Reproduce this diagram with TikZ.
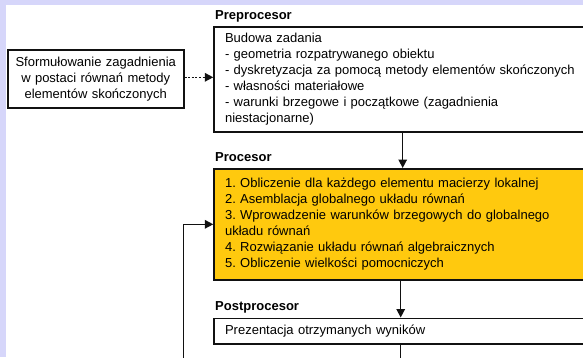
\documentclass[tikz,border=0pt]{standalone}
\usepackage{fontspec}
\setmainfont{Liberation Sans}
\usetikzlibrary{arrows.meta}
\frenchspacing
\definecolor{frame}{HTML}{D6D6FA}
\definecolor{procyellow}{HTML}{FFC90E}
\definecolor{lineblack}{HTML}{111111}
\tikzset{
  box/.style={draw=lineblack, line width=1.5pt, fill=white, inner xsep=11pt, inner ysep=0pt, anchor=north west,
    font=\fontsize{13}{16}\selectfont\frenchspacing, align=left},
  head/.style={font=\fontsize{13}{16}\selectfont\bfseries, anchor=base west, inner sep=0pt},
  arr/.style={line width=1.5pt, draw=lineblack, -{Triangle[length=8.5pt,width=8.5pt]}},
  plain/.style={line width=1.5pt, draw=lineblack},
}
\begin{document}
\begin{tikzpicture}[x=1pt,y=-1pt]
\useasboundingbox (0,0) rectangle (583,357);
\fill[frame] (0,0) rectangle (583,357);
\fill[white] (6,5) rectangle (583,357);
\clip (0,0) rectangle (583,357);

% left box
\node[box, align=center, inner xsep=0pt, text width=176pt, minimum width=176pt, minimum height=58pt] (form) at (7,49)
  {Sformułowanie zagadnienia\\w postaci równań metody\\elementów skończonych};

% preprocessor
\node[head] (lpre) at (215,19) {Preprocesor};
\node[box, text width=420pt, minimum height=105pt] (pre) at (213.3,26)
  {Budowa zadania\\
   - geometria rozpatrywanego obiektu\\
   - dyskretyzacja za pomocą metody elementów skończonych\\
   - własności materiałowe\\
   - warunki brzegowe i początkowe (zagadnienia\\
   niestacjonarne)};

% processor
\node[head] (lproc) at (215,161) {Procesor};
\node[box, fill=procyellow, text width=420pt, minimum height=111pt] (proc) at (213.3,168)
  {1. Obliczenie dla każdego elementu macierzy lokalnej\\
   2. Asemblacja globalnego układu równań\\
   3. Wprowadzenie warunków brzegowych do globalnego\\
   układu równań\\
   4. Rozwiązanie układu równań algebraicznych\\
   5. Obliczenie wielkości pomocniczych};

% postprocessor
\node[head] (lpost) at (215,310) {Postprocesor};
\node[box, text width=420pt, minimum height=25.5pt] (post) at (213.3,317.5)
  {Prezentacja otrzymanych wyników};

% connectors
\coordinate (xa) at (402.7,0);
\coordinate (xb) at (400.7,0);
\coordinate (fb) at (183.5,224.3);
\coordinate (fbstart) at (183.5,360);
\coordinate (postend) at (400.7,360);

\draw[arr, dash pattern=on 2pt off 1.6pt] (form.east |- 0,77.3) -- (pre.west |- 0,77.3);
\draw[arr] (pre.south -| xa) -- (proc.north -| xa);
\draw[arr] (proc.south -| xb) -- (post.north -| xb);
\draw[plain] (post.south -| xb) -- (postend);
\draw[arr] (fbstart) -- (fb) -- (proc.west |- fb);
\end{tikzpicture}
\end{document}
